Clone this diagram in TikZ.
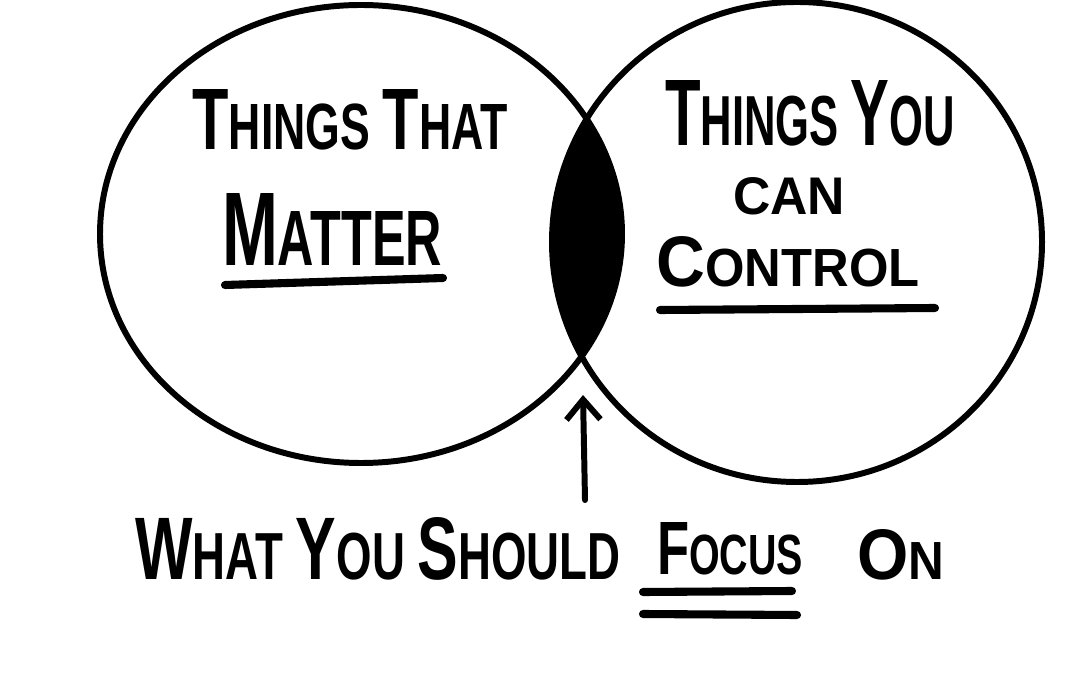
\documentclass[tikz,border=0pt]{standalone}
\usepackage{fontspec}
\setmainfont{Liberation Sans}
\usepackage{tikz}
\usetikzlibrary{arrows,arrows.meta,positioning}

% fake small caps: larger first letter
\newcommand{\capword}[2]{{\fontsize{24}{24}\selectfont #1}#2}
% squeeze a label into its box
\newcommand{\fitword}[3]{\resizebox{#1}{#2}{#3}}

\tikzset{
  pen/.style={line width=1.7pt},
  marker/.style={line width=2.3pt,line cap=round},
  hand/.style={inner sep=0pt,font=\fontsize{18}{20}\selectfont\bfseries}
}

\begin{document}
\begin{tikzpicture}
\useasboundingbox (0,0) rectangle (10.8,6.75);

% Overlap
\begin{scope}
\clip (3.61,4.41) ellipse [x radius=2.61,y radius=2.29];
\fill (7.97,4.33) ellipse [x radius=2.45,y radius=2.40];
\end{scope}

% Circles
\draw[pen] (3.61,4.41) ellipse [x radius=2.61,y radius=2.29];
\draw[pen] (7.97,4.33) ellipse [x radius=2.45,y radius=2.40];

% Left circle
\node[hand] (matters1) at (3.50,5.55) {\fitword{3.15cm}{0.60cm}{\capword{T}{HINGS} \capword{T}{HAT}}};
\node[hand] (matters2) at (3.32,4.45) {\fitword{2.20cm}{0.72cm}{\capword{M}{ATTER}}};
\draw[marker] (2.25,3.90) -- (4.43,3.97);

% Right circle
\node[hand] (control1) at (8.10,5.62) {\fitword{2.90cm}{0.65cm}{\capword{T}{HINGS} \capword{Y}{OU}}};
\node[hand] (control2) at (7.89,4.79) {\fitword{1.12cm}{0.37cm}{CAN}};
\node[hand] (control3) at (7.88,4.13) {\fitword{2.63cm}{0.50cm}{\capword{C}{ONTROL}}};
\draw[marker] (6.60,3.65) -- (9.35,3.67);

% Caption
\node[hand] (what) at (3.78,1.26) {\fitword{4.85cm}{0.62cm}{\capword{W}{HAT} \capword{Y}{OU} \capword{S}{HOULD}}};
\node[hand] (focus) at (7.30,1.26) {\fitword{1.46cm}{0.52cm}{\capword{F}{OCUS}}};
\node[hand] (on) at (9.01,1.20) {\fitword{0.87cm}{0.50cm}{\capword{O}{N}}};
\draw[marker] (6.43,0.83) -- (7.92,0.84);
\draw[marker] (6.43,0.61) -- (7.97,0.60);

% Pointer
\coordinate (arrowfoot) at (5.85,1.75);
\coordinate (arrowtip) at (5.83,2.80);
\draw[pen,line cap=round,-{Straight Barb[length=2mm,width=3.4mm]}] (arrowfoot) -- (arrowtip);

\end{tikzpicture}
\end{document}
